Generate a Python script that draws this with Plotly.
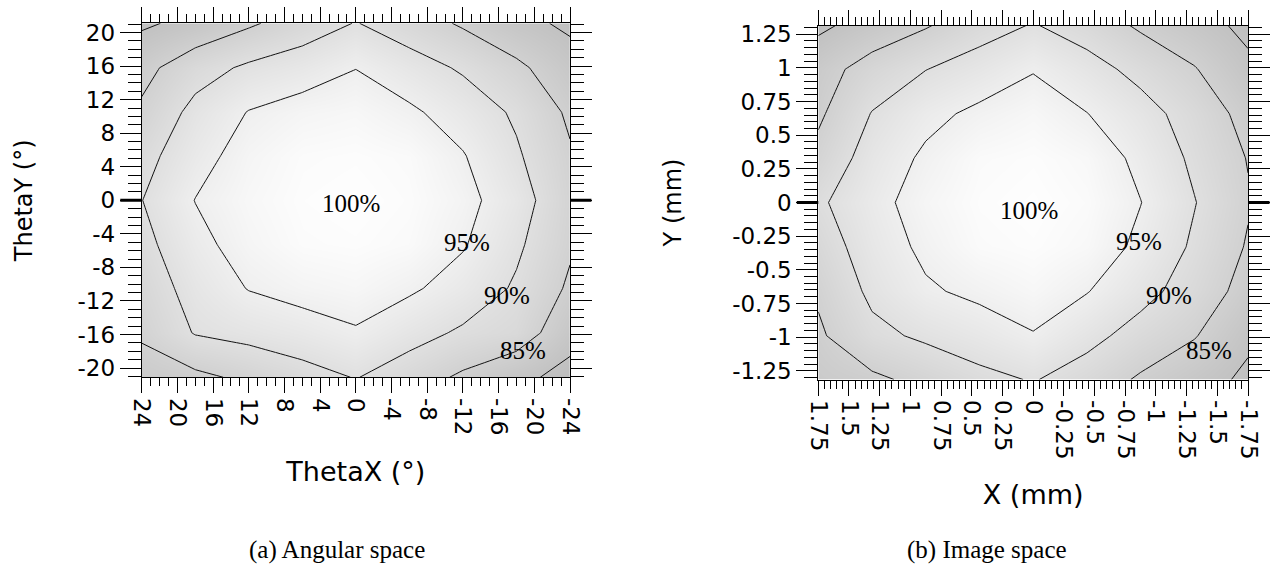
import plotly.graph_objects as go

# ---------------- data: (a) angular space ----------------
ang_x = [-24, -18, -12, -6, 0, 6, 12, 18, 24]
ang_y = [-21.1, -15.8, -10.5, -5.3, 0, 5.3, 10.5, 15.8, 21.1]
ang_z = [
    [78.5, 81.2, 84.2, 87.4, 90.2, 88.2, 86.0, 83.9, 83.0],
    [81.7, 87.7, 89.3, 91.8, 94.5, 92.8, 91.5, 90.3, 85.6],
    [84.3, 89.4, 93.0, 95.7, 97.5, 96.7, 95.2, 91.9, 87.0],
    [85.6, 90.8, 95.4, 98.5, 99.4, 99.0, 97.0, 93.6, 88.5],
    [86.1, 92.2, 96.5, 99.1, 100.0, 99.5, 97.8, 95.1, 89.9],
    [85.5, 90.6, 95.3, 98.6, 99.4, 99.0, 97.0, 93.2, 88.3],
    [84.2, 89.3, 92.8, 95.8, 97.7, 97.0, 95.2, 91.4, 85.8],
    [81.9, 86.0, 89.4, 92.1, 94.9, 92.5, 90.8, 88.0, 83.5],
    [79.2, 81.3, 84.4, 87.4, 90.2, 87.4, 84.3, 81.3, 79.3],
]
ang_xtick_vals = [24, 20, 16, 12, 8, 4, 0, -4, -8, -12, -16, -20, -24]
ang_xtick_text = ["24", "20", "16", "12", "8", "4", "0", "-4", "-8", "-12", "-16", "-20", "-24"]
ang_ytick_vals = [20, 16, 12, 8, 4, 0, -4, -8, -12, -16, -20]
ang_ytick_text = ["20", "16", "12", "8", "4", "0", "-4", "-8", "-12", "-16", "-20"]
ang_label_text = ["100%", "95%", "90%", "85%"]
ang_label_x = [0.6, -12.5, -16.9, -18.7]
ang_label_y = [-0.4, -5.0, -11.4, -17.9]

# ---------------- data: (b) image space ----------------
img_x = [-1.75, -1.3125, -0.875, -0.4375, 0, 0.4375, 0.875, 1.3125, 1.75]
img_y = [-1.315, -0.99, -0.66, -0.33, 0, 0.33, 0.66, 0.99, 1.315]
img_z = [
    [79.2, 81.8, 84.4, 87.7, 90.3, 88.7, 86.3, 84.1, 83.0],
    [80.8, 85.3, 88.1, 91.5, 94.7, 92.6, 90.8, 88.8, 84.3],
    [83.3, 87.8, 91.6, 95.2, 97.6, 96.0, 94.4, 91.0, 85.6],
    [84.6, 89.3, 93.9, 98.0, 99.4, 98.7, 96.0, 92.4, 87.4],
    [85.4, 90.2, 95.1, 98.8, 100.0, 99.3, 97.1, 93.4, 89.2],
    [84.8, 89.1, 93.8, 98.0, 99.4, 98.7, 95.8, 92.1, 86.4],
    [83.4, 88.0, 91.8, 95.1, 97.6, 96.0, 93.7, 90.2, 84.2],
    [80.9, 85.3, 88.6, 91.8, 94.7, 92.1, 89.9, 87.0, 83.0],
    [79.0, 81.7, 84.3, 87.8, 90.3, 88.0, 84.6, 81.9, 79.1],
]
img_xtick_vals = [1.75, 1.5, 1.25, 1, 0.75, 0.5, 0.25, 0, -0.25, -0.5, -0.75, -1, -1.25, -1.5, -1.75]
img_xtick_text = ["1.75", "1.5", "1.25", "1", "0.75", "0.5", "0.25", "0",
                  "-0.25", "-0.5", "-0.75", "-1", "-1.25", "-1.5", "-1.75"]
img_ytick_vals = [1.25, 1, 0.75, 0.5, 0.25, 0, -0.25, -0.5, -0.75, -1, -1.25]
img_ytick_text = ["1.25", "1", "0.75", "0.5", "0.25", "0", "-0.25", "-0.5", "-0.75", "-1", "-1.25"]
img_label_text = ["100%", "95%", "90%", "85%"]
img_label_x = [0.03, -0.86, -1.11, -1.43]
img_label_y = [-0.06, -0.29, -0.69, -1.10]

levels = dict(start=80, end=95, size=5)
captions = ["(a) Angular space", "(b) Image space"]

W, H = 1271, 571
gray = [[0.0, "#bcbcbc"], [0.55, "#e0e0e0"], [1.0, "#fefefe"]]
tick_font = dict(family="DejaVu Sans", size=23, color="black")
xtitle_font = dict(family="DejaVu Sans", size=27, color="black")
ytitle_font = dict(family="DejaVu Sans", size=24, color="black")
serif = "Liberation Serif"

fig = go.Figure()
for x, y, z, xa, ya in [(ang_x, ang_y, ang_z, "x", "y"), (img_x, img_y, img_z, "x2", "y2")]:
    fig.add_trace(go.Contour(
        x=x, y=y, z=z, xaxis=xa, yaxis=ya,
        contours=dict(start=levels["start"], end=levels["end"], size=levels["size"],
                      coloring="heatmap", showlabels=False),
        line=dict(color="#111111", width=1, smoothing=0),
        colorscale=gray, zmin=78, zmax=100, zauto=False,
        showscale=False, hoverinfo="skip",
    ))


def xaxis(domain, rng, vals, text, minor_dt, anchor, title, standoff):
    return dict(
        domain=domain, range=rng, anchor=anchor, automargin=False,
        tickmode="array", tickvals=vals, ticktext=text, tickangle=90,
        ticks="outside", ticklen=15, tickwidth=1, tickcolor="black",
        minor=dict(ticks="outside", ticklen=8, tickwidth=1, tickcolor="black",
                   tick0=0, dtick=minor_dt, showgrid=False),
        showline=True, linecolor="black", linewidth=1, mirror="ticks",
        showgrid=False, zeroline=False, tickfont=tick_font,
        title=dict(text=title, font=xtitle_font, standoff=standoff),
    )


def yaxis(domain, rng, vals, text, minor_dt, anchor, title, standoff):
    return dict(
        domain=domain, range=rng, anchor=anchor, automargin=False,
        tickmode="array", tickvals=vals, ticktext=text,
        ticks="outside", ticklen=21, tickwidth=1, tickcolor="black",
        minor=dict(ticks="outside", ticklen=13, tickwidth=1, tickcolor="black",
                   tick0=0, dtick=minor_dt, showgrid=False),
        showline=True, linecolor="black", linewidth=1, mirror="ticks",
        showgrid=False, zeroline=False, tickfont=tick_font,
        title=dict(text=title, font=ytitle_font, standoff=standoff),
    )


annotations = []
for txt, lx, ly in zip(ang_label_text, ang_label_x, ang_label_y):
    annotations.append(dict(x=lx, y=ly, xref="x", yref="y", text=txt, showarrow=False,
                            font=dict(family=serif, size=25, color="black")))
for txt, lx, ly in zip(img_label_text, img_label_x, img_label_y):
    annotations.append(dict(x=lx, y=ly, xref="x2", yref="y2", text=txt, showarrow=False,
                            font=dict(family=serif, size=25, color="black")))
for txt, cx in zip(captions, [337 / W, 987 / W]):
    annotations.append(dict(x=cx, y=1 - 550 / H, xref="paper", yref="paper", text=txt,
                            showarrow=False, xanchor="center", yanchor="middle",
                            font=dict(family=serif, size=25, color="black")))

# heavier tick mark at the zero line on both sides of each panel
shapes = []
for xr, yr in [("x domain", "y"), ("x2 domain", "y2")]:
    for x0, x1 in [(-0.05, 0.0), (1.0, 1.05)]:
        shapes.append(dict(type="line", xref=xr, yref=yr, x0=x0, x1=x1, y0=0, y1=0,
                           line=dict(color="black", width=3), layer="above"))

fig.update_layout(
    template="none",
    width=W, height=H, margin=dict(l=0, r=0, t=0, b=0, pad=0),
    paper_bgcolor="white", plot_bgcolor="white", showlegend=False,
    xaxis=xaxis([141.7 / W, 570 / W], [24, -24], ang_xtick_vals, ang_xtick_text, 1, "y",
                "ThetaX (°)", 27),
    yaxis=yaxis([1 - 377.3 / H, 1 - 23.3 / H], [-21.1, 21.1], ang_ytick_vals, ang_ytick_text, 1, "x",
                "ThetaY (°)", 38),
    xaxis2=xaxis([818.3 / W, 1248 / W], [1.75, -1.75], img_xtick_vals, img_xtick_text, 0.05, "y2",
                 "X (mm)", 26),
    yaxis2=yaxis([1 - 379.5 / H, 1 - 25.5 / H], [-1.315, 1.315], img_ytick_vals, img_ytick_text, 0.05, "x2",
                 "Y (mm)", 43),
    annotations=annotations,
    shapes=shapes,
)

fig.write_html("out.html")
